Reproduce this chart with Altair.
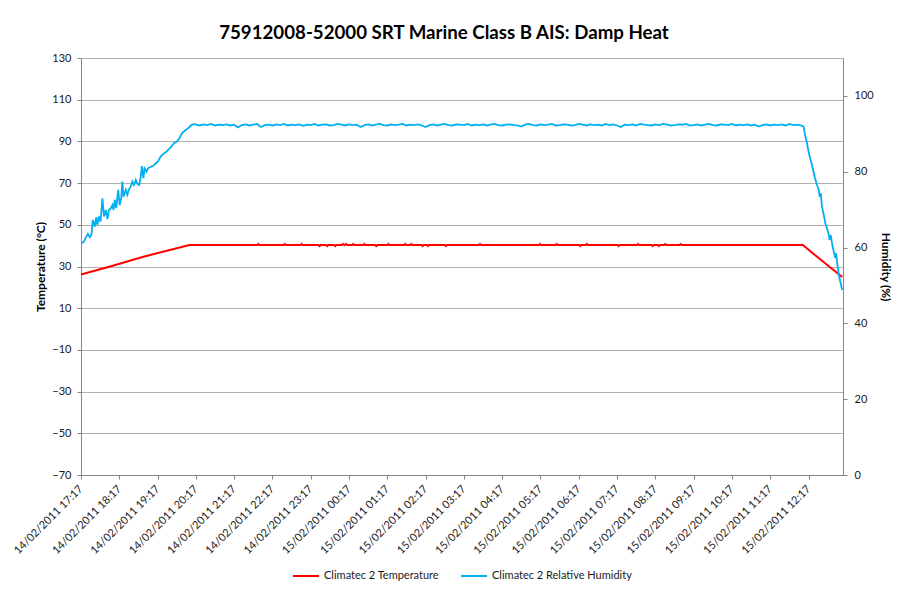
import json
import altair as alt
import pandas as pd

# ---------------- data ----------------
chart_title = "75912008-52000 SRT Marine Class B AIS: Damp Heat"
series_names = ["Climatec 2 Temperature", "Climatec 2 Relative Humidity"]
series_colors = ["#ff0000", "#00b0f0"]

tick_labels = [
    "14/02/2011 17:17", "14/02/2011 18:17", "14/02/2011 19:17", "14/02/2011 20:17",
    "14/02/2011 21:17", "14/02/2011 22:17", "14/02/2011 23:17", "15/02/2011 00:17",
    "15/02/2011 01:17", "15/02/2011 02:17", "15/02/2011 03:17", "15/02/2011 04:17",
    "15/02/2011 05:17", "15/02/2011 06:17", "15/02/2011 07:17", "15/02/2011 08:17",
    "15/02/2011 09:17", "15/02/2011 10:17", "15/02/2011 11:17", "15/02/2011 12:17",
]
tick_hours = list(range(len(tick_labels)))   # hours after 14/02/2011 17:17
x_domain = [0, 19.9]

temp_ticks = [-70, -50, -30, -10, 10, 30, 50, 70, 90, 110, 130]
hum_ticks = [0, 20, 40, 60, 80, 100]

# Temperature (hours after start, degC)
temp_hours = [
    0.00, 0.76, 1.63, 2.32, 2.83,
    4.60, 4.63, 4.66,
    5.29, 5.32, 5.35,
    5.73, 5.76, 5.79,
    6.20, 6.23, 6.26,
    6.40, 6.43, 6.46,
    6.61, 6.64, 6.67,
    6.81, 6.84, 6.88, 6.92, 6.95,
    7.08, 7.11, 7.14,
    7.37, 7.40, 7.43,
    7.68, 7.71, 7.74,
    8.00, 8.03, 8.06,
    8.44, 8.47, 8.50,
    8.60, 8.63, 8.66,
    8.89, 8.92, 8.95,
    9.03, 9.06, 9.09,
    9.50, 9.53, 9.56,
    10.39, 10.42, 10.45,
    11.96, 11.99, 12.02,
    12.39, 12.42, 12.45,
    13.01, 13.04, 13.07,
    13.18, 13.21, 13.24,
    14.01, 14.04, 14.07,
    14.52, 14.55, 14.58,
    14.90, 14.93, 14.96,
    15.06, 15.09, 15.12,
    15.23, 15.26, 15.29,
    15.63, 15.66, 15.69,
    18.85, 19.40, 19.88,
]
temp_values = [
    26.2, 30.0, 34.7, 37.9, 40.3,
    40.3, 40.8, 40.3,
    40.3, 40.8, 40.3,
    40.3, 40.8, 40.3,
    40.3, 39.8, 40.3,
    40.3, 39.8, 40.3,
    40.3, 39.8, 40.3,
    40.3, 40.8, 40.3, 40.8, 40.3,
    40.3, 40.8, 40.3,
    40.3, 40.8, 40.3,
    40.3, 39.8, 40.3,
    40.3, 40.8, 40.3,
    40.3, 40.8, 40.3,
    40.3, 40.8, 40.3,
    40.3, 39.8, 40.3,
    40.3, 39.8, 40.3,
    40.3, 39.8, 40.3,
    40.3, 40.8, 40.3,
    40.3, 40.8, 40.3,
    40.3, 40.8, 40.3,
    40.3, 39.8, 40.3,
    40.3, 40.8, 40.3,
    40.3, 39.8, 40.3,
    40.3, 40.8, 40.3,
    40.3, 39.8, 40.3,
    40.3, 39.8, 40.3,
    40.3, 40.8, 40.3,
    40.3, 40.8, 40.3,
    40.3, 32.0, 25.0,
]

# Relative humidity: ramp-up phase (hours, %)
rise_hours = [
    0.01, 0.08, 0.14, 0.18, 0.23, 0.27, 0.31, 0.36, 0.40, 0.43,
    0.47, 0.51, 0.56, 0.60, 0.65, 0.69, 0.73, 0.78, 0.82, 0.85,
    0.88, 0.92, 0.97, 1.01, 1.05, 1.08, 1.11, 1.17, 1.21, 1.25,
    1.30, 1.34, 1.38, 1.43, 1.47, 1.52, 1.56, 1.59, 1.63, 1.66,
    1.71, 1.75, 1.82, 1.88, 1.94, 2.01, 2.08, 2.15, 2.22, 2.29,
    2.36, 2.43, 2.50, 2.57, 2.64, 2.71, 2.80, 2.88, 2.97,
]
rise_values = [
    61.1, 61.6, 62.9, 63.6, 62.7, 63.3, 67.3, 65.5, 68.0, 66.0,
    68.2, 66.8, 73.0, 68.2, 69.9, 67.5, 69.9, 70.4, 71.2, 69.9,
    72.6, 70.4, 75.2, 71.2, 73.0, 77.4, 73.4, 75.2, 73.9, 75.2,
    76.1, 77.4, 76.5, 77.8, 76.8, 76.5, 78.7, 81.5, 78.3, 80.9,
    80.0, 80.9, 81.3, 81.5, 82.1, 82.7, 84.0, 84.7, 85.2, 85.9,
    86.6, 87.5, 87.9, 88.8, 90.2, 90.8, 91.5, 92.3, 92.6,
]

# Relative humidity: steady phase, one reading every 0.1 h from 3.0 h
plateau_start = 3.0
plateau_step = 0.1
plateau_values = [
    92.4, 92.2, 92.5, 92.3, 92.6, 92.2, 92.4, 92.3, 92.5, 92.2,
    92.4, 91.7, 92.3, 92.5, 92.2, 92.4, 92.6, 91.8, 92.3, 92.4,
    92.2, 92.5, 92.3, 92.6, 92.2, 92.4, 92.3, 92.5, 92.1, 92.4,
    92.3, 92.6, 92.2, 92.4, 92.5, 92.2, 92.3, 92.6, 92.4, 92.2,
    92.5, 92.3, 92.4, 91.8, 92.3, 92.5, 92.2, 92.4, 92.6, 92.3,
    92.2, 92.5, 92.3, 92.4, 92.6, 92.2, 92.4, 92.3, 92.5, 92.2,
    91.8, 92.3, 92.5, 92.2, 92.4, 92.6, 92.3, 92.2, 92.5, 92.4,
    92.3, 92.6, 92.2, 92.4, 92.3, 92.5, 92.2, 92.4, 92.6, 92.3,
    92.2, 92.4, 92.5, 92.3, 92.2, 91.9, 92.4, 92.6, 92.3, 92.2,
    92.5, 92.3, 92.4, 92.6, 92.2, 92.3, 92.5, 92.4, 92.2, 92.3,
    92.6, 92.4, 92.2, 92.5, 92.3, 92.4, 92.2, 92.6, 92.3, 92.5,
    92.2, 91.8, 92.4, 92.3, 92.5, 92.2, 92.6, 92.4, 92.3, 92.2,
    92.5, 92.3, 92.6, 92.4, 92.2, 92.3, 92.5, 92.4, 92.6, 92.2,
    92.3, 92.5, 92.2, 92.4, 92.6, 92.3, 92.2, 92.5, 92.4, 92.3,
    92.6, 92.2, 92.4, 92.3, 92.5, 92.2, 92.4, 91.9, 92.3, 92.5,
    92.2, 92.4, 92.3, 92.5, 92.2, 92.6, 92.3, 92.4, 92.2,
]

# Relative humidity: ramp-down phase (hours, %)
drop_hours = [
    18.87, 18.91, 18.96, 19.00, 19.04, 19.09, 19.13, 19.17, 19.22, 19.26,
    19.29, 19.32, 19.35, 19.39, 19.44, 19.48, 19.52, 19.55, 19.58, 19.63,
    19.67, 19.70, 19.72, 19.76, 19.80, 19.85, 19.88,
]
drop_values = [
    91.9, 89.7, 87.5, 85.3, 83.6, 81.8, 80.0, 78.3, 76.5, 75.6,
    73.4, 74.3, 70.8, 69.0, 66.4, 65.1, 63.8, 62.0, 63.3, 60.2,
    58.5, 57.2, 58.5, 55.0, 52.3, 50.1, 48.8,
]

# ---------------- tables ----------------
plateau_hours = [round(plateau_start + i * plateau_step, 2) for i in range(len(plateau_values))]
temp_df = pd.DataFrame({"hours": temp_hours, "value": temp_values, "series": series_names[0]})
hum_df = pd.DataFrame({
    "hours": rise_hours + plateau_hours + drop_hours,
    "value": rise_values + plateau_values + drop_values,
    "series": series_names[1],
})

FONT = "Lato"
TEXT = "#1a1a1a"
AXIS_GRAY = "#868686"

label_expr = json.dumps(tick_labels) + "[datum.value]"

x_enc = alt.X(
    "hours:Q",
    scale=alt.Scale(domain=x_domain, nice=False, zero=False),
    axis=alt.Axis(
        values=tick_hours, labelExpr=label_expr, labelAngle=-45,
        labelAlign="right", labelBaseline="middle", labelPadding=8,
        title=None, grid=False, tickSize=4, labelFontSize=11,
        labelOverlap=False, labelBound=False, labelFlush=False,
    ),
)

color_enc = alt.Color(
    "series:N",
    scale=alt.Scale(domain=series_names, range=series_colors),
    legend=alt.Legend(
        title=None, orient="none", legendX=211, legendY=504,
        direction="horizontal", symbolType="stroke", symbolSize=676,
        symbolStrokeWidth=2, labelFontSize=11, labelFont=FONT, labelColor=TEXT,
        columnPadding=18, labelOffset=4, padding=0,
    ),
)

temp_line = alt.Chart(temp_df).mark_line(strokeWidth=2).encode(
    x=x_enc,
    y=alt.Y(
        "value:Q",
        scale=alt.Scale(domain=[-70, 130], nice=False, zero=False),
        axis=alt.Axis(
            values=temp_ticks, title="Temperature (°C)", grid=True,
            gridColor="#b0b0b0", gridWidth=1, tickSize=4, labelPadding=6,
            titlePadding=4, orient="left",
        ),
    ),
    color=color_enc,
)

hum_line = alt.Chart(hum_df).mark_line(strokeWidth=1.8).encode(
    x=x_enc,
    y=alt.Y(
        "value:Q",
        scale=alt.Scale(domain=[0, 110], nice=False, zero=False),
        axis=alt.Axis(
            values=hum_ticks, title="Humidity (%)", grid=False,
            tickSize=4, labelPadding=7, titlePadding=5, orient="right",
        ),
    ),
    color=color_enc,
)

chart = (
    alt.layer(temp_line, hum_line)
    .resolve_scale(y="independent")
    .properties(
        width=762,
        height=417,
        title=alt.TitleParams(
            chart_title, fontSize=18.7, fontWeight="bold", font=FONT,
            color="#000000", anchor="middle", offset=9, dx=-18,
        ),
        autosize=alt.AutoSizeParams(type="none"),
        padding={"left": 73, "top": 50, "right": 52, "bottom": 108},
    )
    .configure_view(stroke=None)
    .configure_axis(
        domainColor=AXIS_GRAY, tickColor=AXIS_GRAY, labelColor=TEXT,
        labelFont=FONT, labelFontSize=11, titleFont=FONT, titleFontSize=12,
        titleFontWeight="bold", titleColor="#000000",
    )
)

chart.save("out.html", embed_options={"renderer": "svg", "actions": False})
